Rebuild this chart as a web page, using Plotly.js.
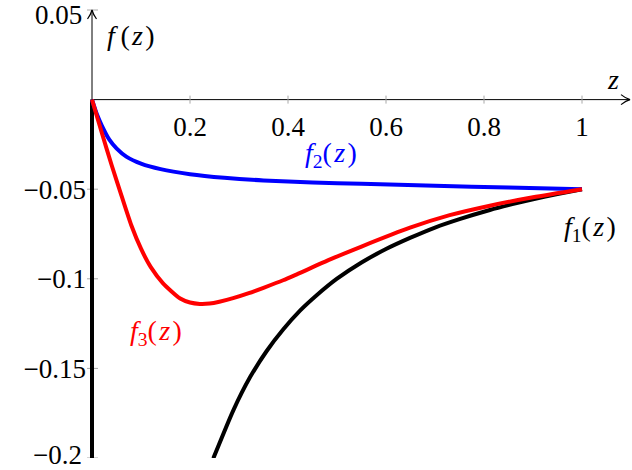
<!DOCTYPE html>
<html><head><meta charset="utf-8">
<script src="https://cdn.plot.ly/plotly-3.0.1.min.js"></script>
<style>html,body{margin:0;padding:0;background:#fff}#chart{width:632px;height:470px}</style>
</head><body><div id="chart"></div>
<script>
// f1(z): black curve (with its vertical branch along z = 0)
const f1Z = [0, 0, null, 0.2476, 0.2884, 0.3224, 0.3565, 0.3905, 0.4245, 0.4585, 0.4993, 0.55, 0.6, 0.649, 0.7, 0.75, 0.812, 0.86, 0.9, 0.95, 1.0];
const f1V = [0, -0.26, null, -0.2002, -0.1734, -0.1550, -0.1403, -0.1282, -0.1178, -0.1092, -0.1001, -0.0909, -0.0834, -0.0772, -0.0714, -0.0667, -0.0616, -0.0582, -0.0556, -0.0527, -0.0500];
// f2(z): blue curve
const f2Z = [0, 0.01, 0.02, 0.035, 0.05, 0.07, 0.1, 0.14, 0.2, 0.27, 0.35, 0.45, 0.55, 0.7, 0.85, 1.0];
const f2V = [0, -0.0082, -0.0145, -0.0222, -0.0272, -0.0318, -0.0357, -0.0388, -0.0416, -0.0436, -0.0451, -0.0462, -0.0470, -0.0481, -0.0491, -0.0500];
// f3(z): red curve
const f3Z = [0, 0.02, 0.04, 0.06, 0.08, 0.1, 0.12, 0.145, 0.18, 0.2, 0.22, 0.24, 0.26, 0.288, 0.32, 0.35, 0.39, 0.418, 0.486, 0.55, 0.649, 0.73, 0.812, 0.9, 1.0];
const f3V = [0, -0.0185, -0.0365, -0.0535, -0.0700, -0.0832, -0.0935, -0.1025, -0.1110, -0.1132, -0.1140, -0.1138, -0.1128, -0.1108, -0.1080, -0.1050, -0.1008, -0.0975, -0.0892, -0.0820, -0.0715, -0.0645, -0.0592, -0.0545, -0.0500];

const xTickVals = [0.2, 0.4, 0.6, 0.8, 1];
const xTickText = ['0.2', '0.4', '0.6', '0.8', '1'];
const yTickVals = [0.05, -0.05, -0.1, -0.15, -0.2];
const yTickText = ['0.05', '\u22120.05', '\u22120.1', '\u22120.15', '\u22120.2'];

const FONT = '"Liberation Serif", "DejaVu Serif", serif';
const FS = 27;
const xMin = -5 / 490, xMax = 1.1, xArrow = 1.098;
const yMin = -0.2, yMax = 0.05112, yArrow = 0.05;

const lineStyle = c => ({color: c, width: 4, shape: 'spline', smoothing: 0.6});
const traces = [
  {x: f1Z, y: f1V, mode: 'lines', line: lineStyle('#000000'), connectgaps: false, hoverinfo: 'skip'},
  {x: f2Z, y: f2V, mode: 'lines', line: lineStyle('#0000ff'), hoverinfo: 'skip'},
  {x: f3Z, y: f3V, mode: 'lines', line: lineStyle('#ff0000'), hoverinfo: 'skip'}
];

const shapes = [];
// axis lines
shapes.push({type: 'line', xref: 'x', yref: 'y', x0: 0, x1: 0, y0: yMin, y1: yArrow, line: {color: '#000', width: 1}, layer: 'below'});
shapes.push({type: 'line', xref: 'x', yref: 'y', x0: 0, x1: xArrow, y0: 0, y1: 0, line: {color: '#000', width: 1}, layer: 'below'});
// arrow heads
shapes.push({type: 'path', xref: 'x', yref: 'y', xsizemode: 'pixel', ysizemode: 'pixel', xanchor: xArrow, yanchor: 0,
  path: 'M-9,-5 Q-4,-1 0,0 Q-4,1 -9,5', line: {color: '#000', width: 1.2}});
shapes.push({type: 'path', xref: 'x', yref: 'y', xsizemode: 'pixel', ysizemode: 'pixel', xanchor: 0, yanchor: yArrow,
  path: 'M-4.5,-9 Q-1,-4 0,0 Q1,-4 4.5,-9', line: {color: '#000', width: 1.2}});
// tick marks
xTickVals.forEach(v => shapes.push({type: 'line', xref: 'x', yref: 'y', ysizemode: 'pixel', yanchor: 0, x0: v, x1: v, y0: -4, y1: 4, line: {color: '#a8a8a8', width: 1}, layer: 'below'}));
yTickVals.forEach(v => shapes.push({type: 'line', xref: 'x', yref: 'y', xsizemode: 'pixel', xanchor: 0, x0: -6, x1: 6, y0: v, y1: v, line: {color: '#a8a8a8', width: 1}, layer: 'below'}));

const ann = (text, x, y, color) => ({text, x, y, xref: 'x', yref: 'y', showarrow: false, xanchor: 'center', yanchor: 'middle', font: {family: FONT, size: 28, color}});
const T = '\u2009', H = '\u200A';
const annotations = [
  ann('<i>f</i>' + T + '(' + H + '<i>z</i>' + H + ')', 0.0796, 0.036, '#000'),
  ann('<i>z</i>', 1.063, 0.0115, '#000'),
  ann('<i>f</i><sub>2</sub>(' + H + '<i>z</i>' + H + ')', 0.488, -0.0309, '#0000ff'),
  ann('<i>f</i><sub>1</sub>(' + H + '<i>z</i>' + H + ')', 1.016, -0.0717, '#000'),
  ann('<i>f</i><sub>3</sub>(' + H + '<i>z</i>' + H + ')', 0.131, -0.130, '#ff0000')
];
// the two edge tick labels, nudged so they stay inside the picture
const edgeIdx = [0, yTickVals.length - 1];
const edgeShift = [-5, 3];
edgeIdx.forEach((k, j) => annotations.push({
  text: yTickText[k], x: 0, xref: 'paper', xanchor: 'right', xshift: -4,
  y: yTickVals[k], yref: 'y', yanchor: 'middle', yshift: edgeShift[j],
  showarrow: false, borderpad: 0, font: {family: FONT, size: FS, color: '#000'}
}));
const midVals = yTickVals.filter((v, i) => !edgeIdx.includes(i));
const midText = yTickText.filter((v, i) => !edgeIdx.includes(i));

const layout = {
  width: 632, height: 470,
  margin: {l: 87, r: 1, t: 8, b: 12, pad: 0},
  paper_bgcolor: '#fff', plot_bgcolor: '#fff',
  showlegend: false,
  xaxis: {range: [xMin, xMax], anchor: 'free', position: (0 - yMin) / (yMax - yMin),
    showline: false, zeroline: false, showgrid: false, ticks: '',
    tickmode: 'array', tickvals: xTickVals, ticktext: xTickText, ticklabelstandoff: 8,
    tickfont: {family: FONT, size: FS, color: '#000'}, fixedrange: true},
  yaxis: {range: [yMin, yMax], showline: false, zeroline: false, showgrid: false, ticks: '',
    tickmode: 'array', tickvals: midVals, ticktext: midText, ticklabelstandoff: 0,
    tickfont: {family: FONT, size: FS, color: '#000'}, fixedrange: true},
  shapes, annotations
};

Plotly.newPlot('chart', traces, layout, {staticPlot: true, displayModeBar: false});
</script>
</body></html>
